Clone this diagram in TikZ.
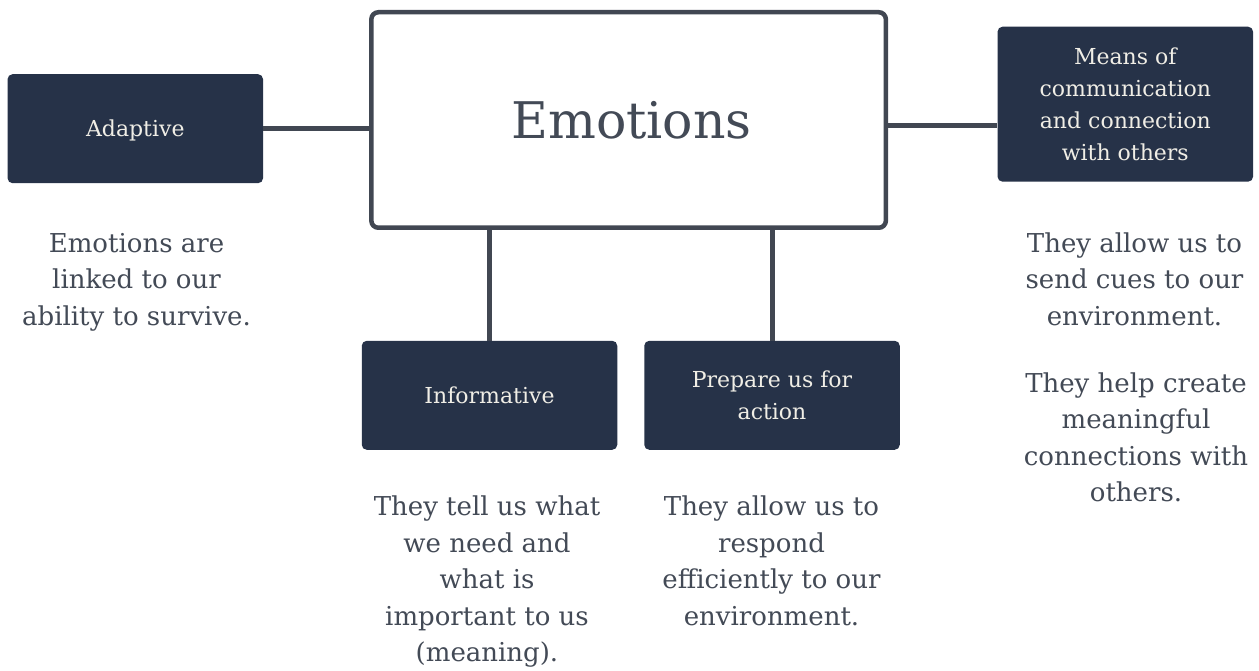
\documentclass[tikz,border=0pt]{standalone}
\usepackage{fontspec}
\setmainfont{DejaVu Serif}
\definecolor{boxfill}{HTML}{263248}
\definecolor{boxtext}{HTML}{F0EEE6}
\definecolor{linecol}{HTML}{414752}
\definecolor{bodytext}{HTML}{434A56}
\newcommand{\labstrut}{\rule[-9.6pt]{0pt}{35pt}}
\newcommand{\labstrutb}{\rule[-9.6pt]{0pt}{26.4pt}}
\newcommand{\bodyfont}{\fontsize{26}{36.5}\selectfont}
\newcommand{\labfont}{\fontsize{22}{32}\selectfont}
\tikzset{
  darkbox/.style={rectangle, rounded corners=5pt, fill=boxfill, text=boxtext,
    minimum width=255.5pt, minimum height=109pt, align=center, inner sep=0pt, font=\labfont},
  bodytxt/.style={text=bodytext, align=center, inner sep=0pt, anchor=north, font=\bodyfont},
  link/.style={draw=linecol, line width=5pt},
}
\begin{document}
\begin{tikzpicture}[x=1pt,y=-1pt]
\path[use as bounding box, fill=white] (0,0) rectangle (1259,671);

\node[draw=linecol, line width=4.5pt, rounded corners=7pt, fill=white,
  minimum width=514.5pt, minimum height=215.5pt, inner sep=0pt,
  text=bodytext, font=\fontsize{50.5}{60}\selectfont, text height=37.5pt, text depth=0pt]
  (E) at (628.6,120) {\hspace*{6pt}Emotions};

\node[darkbox] (A) at (135.3,128.7) {\labstrut Adaptive};
\node[darkbox, minimum height=155pt] (M) at (1125.3,104.2)
  {\labstrut Means of\\\labstrutb communication\\\labstrutb and connection\\\labstrutb with others};
\node[darkbox] (I) at (489.5,395.3) {\labstrut Informative};
\node[darkbox] (P) at (772,395.3) {\labstrut Prepare us for\\\labstrutb action};

\draw[link] (A.east) -- (A.east -| E.west);
\draw[link] ([yshift=-6pt]E.east) -- ([yshift=-6pt]E.east -| M.west);
\draw[link] (I.north) -- (I.north |- E.south);
\draw[link] (P.north) -- (P.north |- E.south);

\node[bodytxt] (t1) at (136.5,226.4) {\strut Emotions are\\linked to our\\ability to survive.};
\node[bodytxt] (t2) at (1134.5,226.4) {\strut They allow us to\\send cues to our\\environment.};
\node[bodytxt] (t3) at (1136,366.5) {\strut They help create\\meaningful\\connections with\\others.};
\node[bodytxt] (t4) at (487,490.2) {\strut They tell us what\\we need and\\what is\\important to us\\(meaning).};
\node[bodytxt] (t5) at (771.5,490.2) {\strut They allow us to\\respond\\efficiently to our\\environment.};
\end{tikzpicture}
\end{document}
